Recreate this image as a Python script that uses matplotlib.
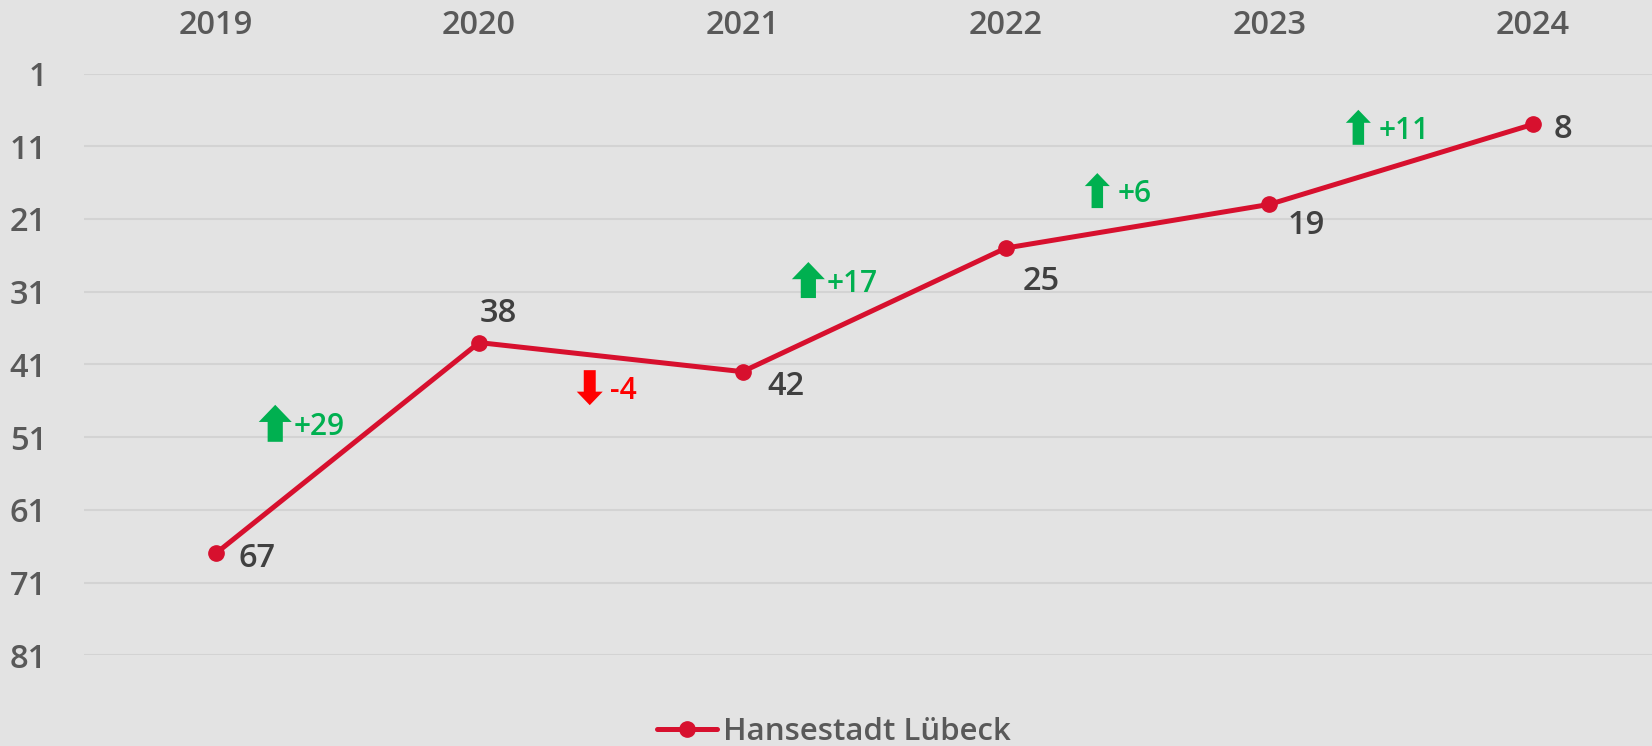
import numpy as np
import matplotlib.pyplot as plt
from matplotlib import font_manager as fm
from matplotlib.patches import Polygon
from matplotlib.transforms import ScaledTranslation

plt.rcParams['font.family'] = ['Open Sans', 'DejaVu Sans']

years = ["2019", "2020", "2021", "2022", "2023", "2024"]
ranks = [67, 38, 42, 25, 19, 8]
series_name = "Hansestadt Lübeck"
y_ticks = [1, 11, 21, 31, 41, 51, 61, 71, 81]

LINE = "#D7102E"
GREEN = "#00B050"
RED = "#FF0000"
BG = "#E3E3E3"
GRID = "#D3D3D3"
TICK = "#595959"
LABEL = "#404040"

# pick the static semibold file directly
semi = [f.fname for f in fm.fontManager.ttflist
        if f.name == "Open Sans" and f.fname.endswith("OpenSans-Semibold.ttf")]


def fp(size):
    if semi:
        return fm.FontProperties(fname=semi[0], size=size)
    return fm.FontProperties(family="Open Sans", weight="semibold", size=size)


W, H = 1652, 746
fig = plt.figure(figsize=(W / 100, H / 100), dpi=100, facecolor=BG)
ax = fig.add_axes([84 / W, 1 - 655.3 / H, (W - 84) / W, (655.3 - 73.5) / H])
ax.set_facecolor(BG)

x = np.arange(len(years))
ax.plot(x, ranks, color=LINE, lw=3.6, marker="o", ms=11, label=series_name,
        solid_capstyle="round", zorder=3, clip_on=False)

ax.set_ylim(81, 1)
ax.set_xlim(-0.5, (W - 216) / 263.35)
ax.set_yticks(y_ticks)
ax.set_xticks(x)
ax.set_xticklabels(years)
ax.xaxis.tick_top()
ax.tick_params(axis="x", length=0, pad=22.5, labelcolor=TICK)
ax.tick_params(axis="y", length=0, pad=26.6, labelcolor=TICK)
for lab in ax.get_xticklabels() + ax.get_yticklabels():
    lab.set_fontproperties(fp(23.5))
ax.grid(axis="y", color=GRID, lw=1.5)
ax.set_axisbelow(True)
for s in ax.spines.values():
    s.set_visible(False)

# value labels, offsets in pixels
label_offsets = [(41, -5), (19, 29), (43, -15), (35, -33), (37, -21), (30, -5)]
for xi, r, (dx, dy) in zip(x, ranks, label_offsets):
    ax.annotate(str(r), (xi, r), xytext=(dx * 0.72, dy * 0.72), textcoords="offset points",
                ha="center", va="center", fontproperties=fp(23.5), color=LABEL)

# change arrows: (x, y) of arrow centre in data units, arrow width/height in px
changes = [ranks[i] - ranks[i + 1] for i in range(len(ranks) - 1)]
arrow_pos = [(0.226, 49.1), (1.420, 44.2), (2.250, 29.4), (3.347, 17.1), (4.338, 8.4)]
arrow_size = [(33, 37), (26, 35), (33, 36), (25, 35), (25, 35)]


def block_arrow(cx, cy, w, h, up, color):
    s = w * 0.46
    hh = w * 0.52
    pts = [(0, h / 2), (w / 2, h / 2 - hh), (s / 2, h / 2 - hh), (s / 2, -h / 2),
           (-s / 2, -h / 2), (-s / 2, h / 2 - hh), (-w / 2, h / 2 - hh)]
    if not up:
        pts = [(px, -py) for px, py in pts]
    pts = [(px / 100, py / 100) for px, py in pts]
    tr = fig.dpi_scale_trans + ScaledTranslation(cx, cy, ax.transData)
    ax.add_patch(Polygon(pts, closed=True, transform=tr, facecolor=color,
                         edgecolor="none", clip_on=False, zorder=4))


for c, (cx, cy), (w, h) in zip(changes, arrow_pos, arrow_size):
    up = c > 0
    col = GREEN if up else RED
    block_arrow(cx, cy, w, h, up, col)
    txt = f"+{c}" if up else f"{c}"
    gap = w / 2 + (1.5 if w > 30 else 7.5)
    ax.annotate(txt, (cx, cy), xytext=(gap * 0.72, -3.5 * 0.72), textcoords="offset points",
                ha="left", va="center", fontproperties=fp(21.5), color=col)

fig.legend(loc="center", bbox_to_anchor=(834 / W, 14 / H), frameon=False,
           handlelength=1.9, handletextpad=0.2, labelcolor=TICK, prop=fp(22.5))

fig.savefig("out.png", dpi=100, facecolor=BG)
